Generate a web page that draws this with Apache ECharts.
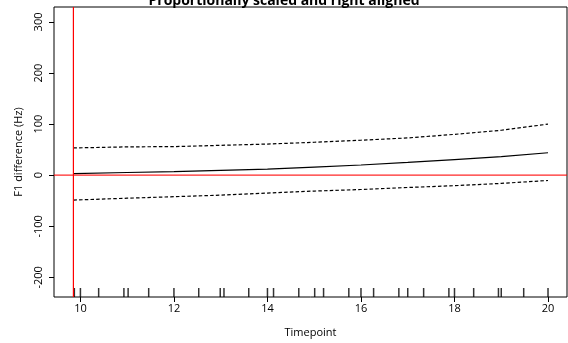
<!DOCTYPE html>
<html>
<head>
<meta charset="utf-8">
<script src="https://cdn.jsdelivr.net/npm/echarts@6/dist/echarts.min.js"></script>
<style>html,body{margin:0;padding:0;background:#fff}#c{width:568px;height:343px}</style>
</head>
<body>
<div id="c"></div>
<script>
var titleText = "Proportionally scaled and right aligned";
var xName = "Timepoint";
var yName = "F1 difference (Hz)";
var timepoints = [9.85, 11, 12, 13, 14, 15, 16, 17, 18, 19, 20];
var fitValues = [3, 5.3, 7, 9.5, 12, 16, 20, 25, 30.5, 36.5, 44];
var upperValues = [53.4, 55.5, 56, 58.5, 61, 64.5, 68.5, 73, 80, 88, 100];
var lowerValues = [-48.7, -45, -42, -39, -35, -31, -28, -24, -20.5, -16, -10.3];
var rugValues = [9.87, 10, 10.39, 10.93, 11.02, 11.46, 12, 12.53, 12.99, 13.07, 13.6, 14, 14.13, 14.67,
  15.01, 15.2, 15.74, 16, 16.27, 16.81, 17, 17.34, 17.88, 18, 18.41, 18.94, 19, 19.48, 20];
var xTicks = [10, 12, 14, 16, 18, 20];
var yTicks = [-200, -100, 0, 100, 200, 300];
var refX = 9.85;
var refY = 0;
var xMin = 9.435, xMax = 20.406;
var yMin = -238.4, yMax = 329.3;

function pairs(xs, ys) { return xs.map(function (x, i) { return [x, ys[i]]; }); }

var chart = echarts.init(document.getElementById('c'), null, { renderer: 'canvas' });
var font = '"Open Sans", "Noto Sans", sans-serif';
chart.setOption({
  animation: false,
  backgroundColor: '#fff',
  title: {
    text: titleText, left: 'center', top: -11,
    textStyle: { fontFamily: font, fontSize: 14, fontWeight: 'bold', color: '#000' }
  },
  grid: { left: 54, right: 1, top: 7, bottom: 45, show: true, borderColor: '#000', borderWidth: 1, backgroundColor: 'transparent' },
  xAxis: {
    type: 'value', min: xMin, max: xMax,
    name: xName, nameLocation: 'middle', nameGap: 30,
    nameTextStyle: { fontFamily: font, fontSize: 11, color: '#000' },
    axisLine: { show: false, onZero: false },
    splitLine: { show: false },
    axisTick: { show: true, length: 5, inside: false, customValues: xTicks, lineStyle: { color: '#000', width: 1 } },
    axisLabel: { customValues: xTicks, margin: 6, fontFamily: font, fontSize: 11, color: '#000' }
  },
  yAxis: {
    type: 'value', min: yMin, max: yMax,
    name: yName, nameLocation: 'middle', nameGap: 30,
    nameTextStyle: { fontFamily: font, fontSize: 11, color: '#000' },
    axisLine: { show: false, onZero: false },
    splitLine: { show: false },
    axisTick: { show: true, length: 5, inside: false, customValues: yTicks, lineStyle: { color: '#000', width: 1 } },
    axisLabel: { customValues: yTicks, rotate: 90, margin: 10, fontFamily: font, fontSize: 11, color: '#000' }
  },
  series: [
    {
      type: 'line', data: pairs(timepoints, fitValues), symbol: 'none',
      lineStyle: { color: '#000', width: 1.2 }, z: 3
    },
    {
      type: 'line', data: pairs(timepoints, upperValues), symbol: 'none',
      lineStyle: { color: '#000', width: 1.2, type: [3.5, 2.2] }, z: 3
    },
    {
      type: 'line', data: pairs(timepoints, lowerValues), symbol: 'none',
      lineStyle: { color: '#000', width: 1.2, type: [3.5, 2.2] }, z: 3
    },
    {
      type: 'scatter',
      data: rugValues.map(function (v) { return [v, yMin]; }),
      symbol: 'rect', symbolSize: [1.5, 9], symbolOffset: [0, -4.5],
      itemStyle: { color: '#000' }, clip: false, silent: true, z: 4
    },
    {
      type: 'line', data: [[refX, yMin], [refX, yMax]], symbol: 'none',
      lineStyle: { color: '#ff0000', width: 1.2 }, z: 10, zlevel: 1, silent: true
    },
    {
      type: 'line', data: [[xMin, refY], [xMax, refY]], symbol: 'none',
      lineStyle: { color: '#ff0000', width: 1.3, opacity: 0.85 }, z: 10, zlevel: 1, silent: true
    }
  ]
});
</script>
</body>
</html>
